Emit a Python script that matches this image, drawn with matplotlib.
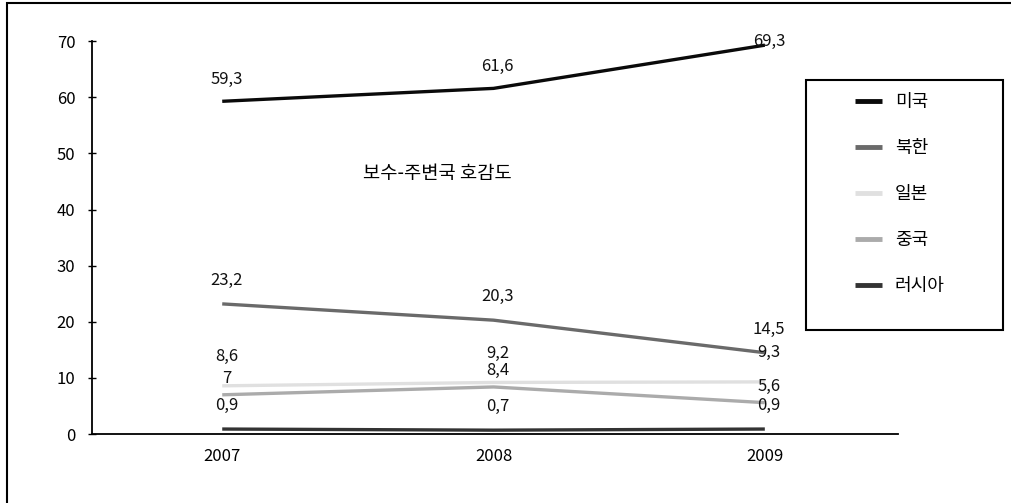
import matplotlib.pyplot as plt
from matplotlib.patches import Rectangle

plt.rcParams['font.family'] = ['Noto Sans CJK KR', 'DejaVu Sans']

years = ['2007', '2008', '2009']
series_names = ['미국', '북한', '일본', '중국', '러시아']
usa = [59.3, 61.6, 69.3]
nkorea = [23.2, 20.3, 14.5]
japan = [8.6, 9.2, 9.3]
china = [7, 8.4, 5.6]
russia = [0.9, 0.7, 0.9]
title_text = '보수-주변국 호감도'

all_series = [usa, nkorea, japan, china, russia]
colors = ['#0a0a0a', '#6a6a6a', '#e0e0e0', '#ababab', '#333333']
# vertical label offsets (points) per series, to keep crowded labels apart
label_dy = {'미국': 16, '북한': 17, '일본': 21, '중국': 12, '러시아': 17}

fig = plt.figure(figsize=(10.11, 5.03), dpi=100)
ax = fig.add_axes([0.091, 0.137, 0.797, 0.781])

x = list(range(len(years)))
for name, vals, c in zip(series_names, all_series, colors):
    ax.plot(x, vals, color=c, lw=2.4, label=name, solid_capstyle='butt')
    for i, v in enumerate(vals):
        lab = ('%g' % v).replace('.', ',')
        dy = 3 if (name == '미국' and i == 2) else label_dy[name]
        ax.annotate(lab, (i, v), xytext=(3, dy), textcoords='offset points',
                    ha='center', va='center', fontsize=12, color='#111111')

ax.set_xlim(-0.48, 2.49)
ax.set_ylim(0, 70)
ax.set_yticks(range(0, 71, 10))
ax.set_xticks(x)
ax.set_xticklabels(years)
ax.tick_params(axis='y', direction='inout', length=6, width=1, labelsize=12, pad=9)
ax.tick_params(axis='x', length=0, labelsize=12, pad=10)
for s in ['top', 'right']:
    ax.spines[s].set_visible(False)
for s in ['left', 'bottom']:
    ax.spines[s].set_linewidth(1.3)
    ax.spines[s].set_color('black')

ax.text(0.433, 0.655, title_text, transform=fig.transFigure, ha='center',
        va='center', fontsize=13.5)

# legend box
fig.patches.append(Rectangle((806 / 1011, 173 / 503), 197 / 1011, 250 / 503,
                             transform=fig.transFigure, fill=False,
                             edgecolor='black', lw=1.5))
fig.legend(loc='upper left', bbox_to_anchor=(848 / 1011, 1 - 86 / 503),
           frameon=False, fontsize=13, labelspacing=1.55, handlelength=1.5,
           handletextpad=0.7, borderaxespad=0)
for line in fig.legends[0].get_lines():
    line.set_linewidth(3.5)

# outer border
fig.patches.append(Rectangle((7 / 1011, -0.01), 1.1, 1 - 3 / 503 + 0.01,
                             transform=fig.transFigure, fill=False,
                             edgecolor='black', lw=1.5))

fig.savefig('out.png', dpi=100)
